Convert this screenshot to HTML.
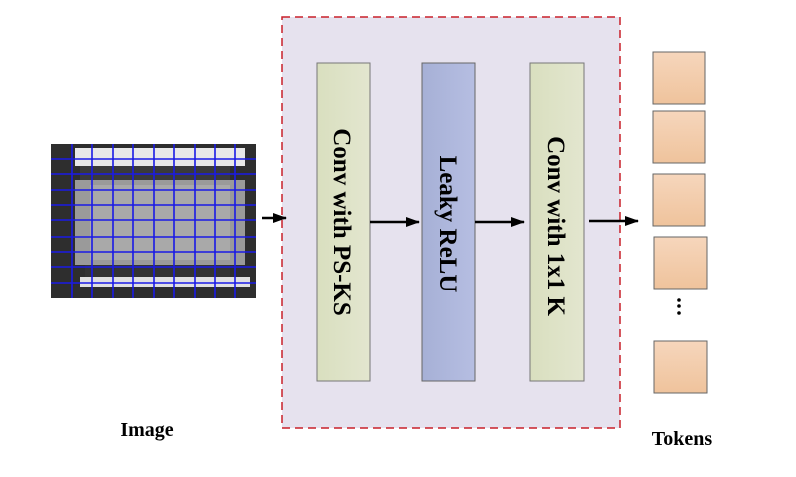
<!DOCTYPE html>
<html><head><style>body{margin:0;background:#fff;width:796px;height:472px;overflow:hidden}</style></head><body>
<svg width="796" height="472" xmlns="http://www.w3.org/2000/svg" font-family="Liberation Serif, serif" font-weight="bold">
<defs>
<linearGradient id="g" x1="0" x2="1"><stop offset="0" stop-color="#d9dfbf"/><stop offset="1" stop-color="#e3e6cf"/></linearGradient>
<linearGradient id="b" x1="0" x2="1"><stop offset="0" stop-color="#a6b0d6"/><stop offset="1" stop-color="#b6bee2"/></linearGradient>
<linearGradient id="t" x1="0" y1="0" x2="0" y2="1"><stop offset="0" stop-color="#f6d6bc"/><stop offset="1" stop-color="#efc39c"/></linearGradient>
<marker id="a" markerWidth="14" markerHeight="10" refX="13" refY="5" orient="auto" markerUnits="userSpaceOnUse"><path d="M0,0 L14,5 L0,10 Z" fill="#000"/></marker>
</defs>
<rect x="282" y="17" width="338" height="411" fill="#e6e2ee" stroke="#c8202a" stroke-width="1.5" stroke-dasharray="8,5"/>
<rect x="317" y="63" width="53" height="318" fill="url(#g)" stroke="#777"/>
<rect x="422" y="63" width="53" height="318" fill="url(#b)" stroke="#666"/>
<rect x="530" y="63" width="54" height="318" fill="url(#g)" stroke="#777"/>
<text transform="translate(334,222) rotate(90)" text-anchor="middle" font-size="25">Conv with PS-KS</text>
<text transform="translate(440,224) rotate(90)" text-anchor="middle" font-size="25">Leaky ReLU</text>
<text transform="translate(548,226) rotate(90)" text-anchor="middle" font-size="25">Conv with 1x1 K</text>
<g stroke="#000" stroke-width="2.5" marker-end="url(#a)">
<line x1="262" y1="218" x2="286" y2="218"/>
<line x1="370" y1="222" x2="419" y2="222"/>
<line x1="475" y1="222" x2="524" y2="222"/>
<line x1="589" y1="221" x2="638" y2="221"/>
</g>
<!-- image -->
<rect x="51" y="144" width="205" height="154" fill="#2e2e2e"/>
<rect x="75" y="148" width="170" height="18" fill="#e8e8e8"/>
<rect x="80" y="166" width="150" height="14" fill="#3a3a3a"/>
<rect x="75" y="180" width="170" height="85" fill="#9a9a9a"/>
<rect x="90" y="185" width="140" height="75" fill="#a9a9a9"/>
<rect x="85" y="265" width="145" height="12" fill="#333"/>
<rect x="80" y="277" width="170" height="10" fill="#e0e0e0"/>
<g stroke="#1a1ae6" stroke-width="1.6">
<line x1="72" y1="144" x2="72" y2="298"/><line x1="92" y1="144" x2="92" y2="298"/><line x1="113" y1="144" x2="113" y2="298"/><line x1="133" y1="144" x2="133" y2="298"/><line x1="154" y1="144" x2="154" y2="298"/><line x1="174" y1="144" x2="174" y2="298"/><line x1="195" y1="144" x2="195" y2="298"/><line x1="215" y1="144" x2="215" y2="298"/><line x1="235" y1="144" x2="235" y2="298"/>
<line x1="51" y1="159" x2="256" y2="159"/><line x1="51" y1="174" x2="256" y2="174"/><line x1="51" y1="190" x2="256" y2="190"/><line x1="51" y1="205" x2="256" y2="205"/><line x1="51" y1="220" x2="256" y2="220"/><line x1="51" y1="237" x2="256" y2="237"/><line x1="51" y1="252" x2="256" y2="252"/><line x1="51" y1="267" x2="256" y2="267"/><line x1="51" y1="283" x2="256" y2="283"/>
</g>
<text x="147" y="436" text-anchor="middle" font-size="20">Image</text>
<g fill="url(#t)" stroke="#666">
<rect x="653" y="52" width="52" height="52"/>
<rect x="653" y="111" width="52" height="52"/>
<rect x="653" y="174" width="52" height="52"/>
<rect x="654" y="237" width="53" height="52"/>
<rect x="654" y="341" width="53" height="52"/>
</g>
<g fill="#000"><circle cx="679" cy="300" r="1.8"/><circle cx="679" cy="306" r="1.8"/><circle cx="679" cy="313" r="1.8"/></g>
<text x="682" y="445" text-anchor="middle" font-size="20">Tokens</text>
</svg>
</body></html>
